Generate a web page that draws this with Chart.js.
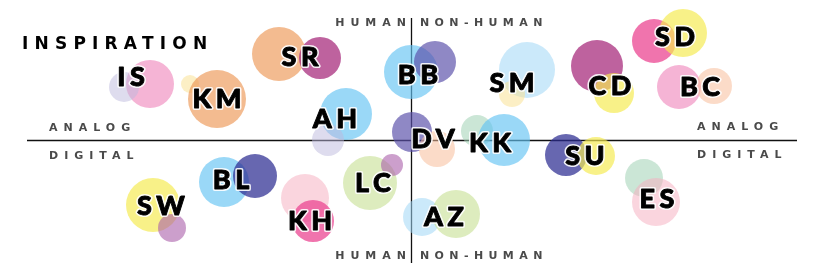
<!DOCTYPE html>
<html><head><meta charset="utf-8">
<script src="https://cdn.jsdelivr.net/npm/chart.js@4.4.1/dist/chart.umd.min.js"></script>
<style>html,body{margin:0;padding:0;background:#fff}#wrap{width:820px;height:273px;position:relative}</style>
</head><body><div id="wrap"><canvas id="c"></canvas></div>
<script>
// Bubble data (x: analog/digital axis offset, y: human/non-human axis offset, r: size)
const bubbleX = [-261,-287,-221,-194,-132,-91,-65,-83,0,24,116,101,186,203,243,272,268,303,1,26,66,93,155,185,233,245,11,45,-41,-19,-106,-98,-187,-156,-258,-239];
const bubbleY = [56,53,56,41,86,82,26,0,68,78,70,46,74,47,99,107,53,54,8,-9,9,0,-15,-16,-38,-62,-77,-74,-43,-25,-58,-81,-42,-36,-65,-88];
const bubbleR = [24,15,9,29,27,21,26,16,27,21,28,13,26,20,22,24,22,18,20,18,16,26,21,19,19,24,19,24,27,11,24,21,25,22,27,14];
const bubbleColor = ['pink','lavender','cream','orange','orange','plum','blue','lavender','blue','violet','skyLight','cream','plum','yellow','hotPink','yellow','pink','peach','violet','peach','mint','blue','navy','yellow','mint','rose','skyLight','lime','lime','orchid','rose','hotPink','blue','navy','yellow','orchid'];
const palette = {
  pink:'rgba(240,140,190,0.65)', lavender:'rgba(190,185,222,0.5)', cream:'rgba(250,225,150,0.55)',
  orange:'rgba(236,150,85,0.65)', plum:'rgba(168,45,125,0.75)', blue:'rgba(100,195,242,0.65)',
  violet:'rgba(90,80,170,0.68)', skyLight:'rgba(160,215,246,0.55)', yellow:'rgba(244,234,80,0.68)',
  hotPink:'rgba(235,70,145,0.75)', peach:'rgba(247,190,155,0.55)', mint:'rgba(160,210,180,0.55)',
  navy:'rgba(45,45,145,0.72)', rose:'rgba(245,175,192,0.52)', lime:'rgba(200,225,150,0.62)',
  orchid:'rgba(170,95,170,0.6)'
};
// Initials labels
const labelText = ['IS','KM','SR','AH','BB','SM','CD','SD','BC','DV','KK','SU','ES','AZ','LC','KH','BL','SW'];
const labelX = [-280,-194,-111,-76,7,101,199,264,289,22,79,174,246,33,-38,-101,-180,-250];
const labelY = [64,42,84,22,66,58,55,104,54,2,-2,-15,-58,-76,-42,-80,-39,-65];
// Axis captions
const captionText = ['HUMAN','NON-HUMAN','HUMAN','NON-HUMAN','ANALOG','DIGITAL','ANALOG','DIGITAL'];
const captionX = [-5,9,-5,9,-362,-362,286,286];
const captionY = [117,117,-116,-116,12,-16,13,-15];
const captionAlign = ['right','left','right','left','left','left','left','left'];
const titleText = 'INSPIRATION';

const overlay = {
  id:'overlay',
  beforeDatasetsDraw(chart){
    const {ctx, scales:{x,y}} = chart;
    ctx.save();
    ctx.strokeStyle = '#111'; ctx.lineWidth = 1.3;
    ctx.beginPath();
    ctx.moveTo(Math.round(x.getPixelForValue(0))+0.5, y.getPixelForValue(122));
    ctx.lineTo(Math.round(x.getPixelForValue(0))+0.5, y.getPixelForValue(-123));
    ctx.moveTo(x.getPixelForValue(-384), Math.round(y.getPixelForValue(0))+0.5);
    ctx.lineTo(x.getPixelForValue(386), Math.round(y.getPixelForValue(0))+0.5);
    ctx.stroke();
    ctx.restore();
  },
  afterDatasetsDraw(chart){
    const {ctx, scales:{x,y}} = chart;
    ctx.save();
    // captions
    ctx.fillStyle = '#4a4a4a';
    ctx.font = 'bold 11px "DejaVu Sans"';
    ctx.textBaseline = 'middle';
    captionText.forEach((t,i)=>{
      const sp = t.length > 7 ? 5.4 : 6;
      ctx.letterSpacing = sp + 'px';
      const w = ctx.measureText(t).width - sp;
      let px = x.getPixelForValue(captionX[i]);
      if (captionAlign[i]==='right') px -= w;
      ctx.textAlign = 'left';
      ctx.fillText(t, px, y.getPixelForValue(captionY[i]));
    });
    // title
    ctx.fillStyle = '#000';
    ctx.font = 'bold 17px "DejaVu Sans"';
    ctx.letterSpacing = '6.2px';
    ctx.textBaseline = 'alphabetic';
    ctx.fillText(titleText, x.getPixelForValue(-389), y.getPixelForValue(91));
    // initials
    ctx.font = '900 27px Lato';
    ctx.letterSpacing = '4.5px';
    ctx.textAlign = 'left';
    ctx.lineJoin = 'round';
    labelText.forEach((t,i)=>{
      const w = ctx.measureText(t).width - 4.5;
      const px = x.getPixelForValue(labelX[i]) - w/2;
      const py = y.getPixelForValue(labelY[i]) + 10;
      ctx.strokeStyle = 'rgba(255,255,255,0.9)'; ctx.lineWidth = 4;
      ctx.strokeText(t, px, py);
      ctx.fillStyle = '#000';
      ctx.fillText(t, px, py);
      ctx.strokeStyle = '#000'; ctx.lineWidth = 0.9;
      ctx.strokeText(t, px, py);
    });
    ctx.restore();
  }
};

new Chart(document.getElementById('c'), {
  type:'bubble',
  data:{ datasets:[{
    data: bubbleX.map((v,i)=>({x:v, y:bubbleY[i], r:bubbleR[i]})),
    backgroundColor: bubbleColor.map(k=>palette[k]),
    borderWidth:0, hoverBorderWidth:0
  }]},
  options:{
    responsive:true, maintainAspectRatio:false, animation:false,
    layout:{padding:0, autoPadding:false},
    events:[],
    plugins:{legend:{display:false}, tooltip:{enabled:false}},
    scales:{
      x:{type:'linear', min:-411, max:409, display:false},
      y:{type:'linear', min:-133, max:140, display:false}
    }
  },
  plugins:[overlay]
});
</script></body></html>
